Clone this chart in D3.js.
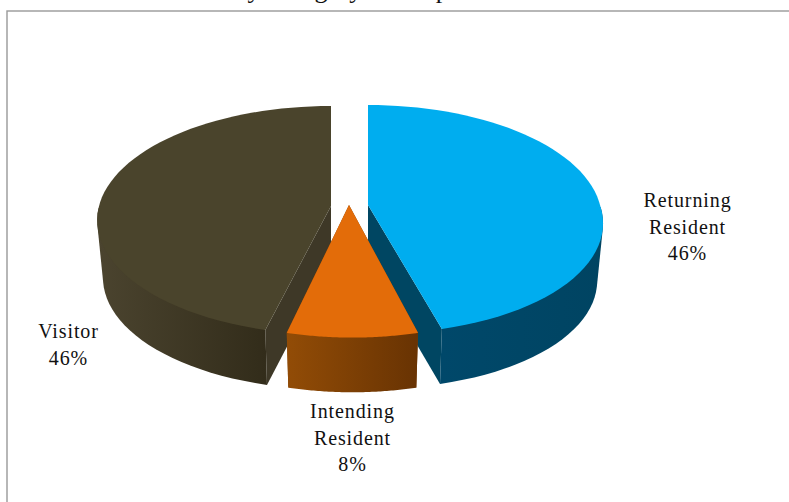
<!DOCTYPE html>
<html>
<head>
<meta charset="utf-8">
<script src="https://cdn.jsdelivr.net/npm/d3@7"></script>
<style>
body { margin: 0; background: #fff; }
text { font-family: "Liberation Serif", serif; fill: #111; }
</style>
</head>
<body>
<script>
// chart data
var categories = ["Returning Resident", "Intending Resident", "Visitor"];
var shares = [46, 8, 46];
var labelLines = [["Returning", "Resident", "46%"], ["Intending", "Resident", "8%"], ["Visitor", "46%"]];
var titleText = "by Category of Respondent";

var topColors = ["#00adef", "#e36c09", "#4a442c"];
var sideColors = ["#004662", "#7a3d06", "#3e3827"];
var wallStops = [["#00486a", "#004462"], ["#924c06", "#683303"], ["#4b442f", "#322c1a"]];

var svg_width = 789;
var svg_height = 502;

var svg = d3.select("body")
    .append("svg")
    .attr("width", svg_width)
    .attr("height", svg_height)
    .style("display", "block");

var defs = svg.append("defs");

// chart frame
svg.append("rect")
    .attr("x", 7).attr("y", 11)
    .attr("width", 790).attr("height", 500)
    .attr("fill", "#fff")
    .attr("stroke", "#999")
    .attr("stroke-width", 1.4);

// title is cut by the top of the picture
svg.append("text")
    .attr("x", 377).attr("y", -2)
    .attr("text-anchor", "middle")
    .style("font-size", "26px")
    .text(titleText);

var pie = d3.pie().sort(null).value(function (d) { return d; });
var slices = pie(shares);

// apex of every slice on the screen
var apex = [[368, 205], [349, 205], [331, 206]];
var radiusX = 232;
var radiusY = [112.5, 116, 112.5];
var lean = [8.5, 3.5, 0];
var persp = 0.125;
var depth = 58;
var bottomScale = 0.975;

// angle on the disc -> screen point, top plane or bottom plane
function project(i, a, bottom) {
    var c = Math.cos(a);
    var s = 1 / (1 - persp * c);
    var f = bottom ? bottomScale : 1;
    var x = apex[i][0] + (radiusX * Math.sin(a) * s + lean[i] * Math.max(0, c)) * f;
    var y = apex[i][1] + radiusY[i] * c * s * f;
    return [x, bottom ? y + depth : y];
}

function arcPoints(i, a0, a1, bottom) {
    return d3.range(0, 61).map(function (k) {
        return project(i, a0 + (a1 - a0) * k / 60, bottom);
    });
}

var line = d3.line().curve(d3.curveLinear);

// slices are pie angles with 0 at the back, going clockwise; flip to the viewer
function toScreenAngle(a) {
    return Math.PI - a;
}

var drawOrder = [2, 0, 1];
drawOrder.forEach(function (i) {
    var d = slices[i];
    var a0 = toScreenAngle(d.startAngle);
    var a1 = toScreenAngle(d.endAngle);
    var g = svg.append("g").attr("class", "slice");
    var ax = apex[i];
    var apexBottom = [ax[0], ax[1] + depth * 0.97];

    // radial side walls
    [a0, a1].forEach(function (a) {
        var p = project(i, a, false);
        var q = project(i, a, true);
        g.append("path")
            .attr("d", line([ax, p, q, apexBottom]) + "Z")
            .attr("fill", sideColors[i]);
    });

    // outer wall with its horizontal shading, hull keeps the silhouette tight
    var topArc = arcPoints(i, a0, a1, false);
    var bottomArc = arcPoints(i, a0, a1, true);
    var frontPts = topArc.concat(bottomArc).filter(function (p) { return p[1] > ax[1]; });
    var gid = "wall" + i;
    var gr = defs.append("linearGradient")
        .attr("id", gid)
        .attr("gradientUnits", "userSpaceOnUse")
        .attr("x1", d3.min(frontPts, function (p) { return p[0]; })).attr("y1", 0)
        .attr("x2", d3.max(frontPts, function (p) { return p[0]; })).attr("y2", 0);
    gr.append("stop").attr("offset", 0).attr("stop-color", wallStops[i][0]);
    gr.append("stop").attr("offset", 1).attr("stop-color", wallStops[i][1]);
    var hull = d3.polygonHull(frontPts);
    g.append("path")
        .attr("d", line(hull) + "Z")
        .attr("fill", "url(#" + gid + ")");

    // top face
    g.append("path")
        .attr("d", line([ax].concat(topArc)) + "Z")
        .attr("fill", topColors[i]);
});

// labels
var labelPos = [[687.5, 207], [352.5, 418], [68.5, 338]];
var labels = svg.selectAll("text.label")
    .data(labelLines)
    .enter()
    .append("text")
    .attr("class", "label")
    .attr("text-anchor", "middle")
    .style("font-size", "20px")
    .style("letter-spacing", "0.9px");

labels.each(function (lines, i) {
    d3.select(this).selectAll("tspan")
        .data(lines)
        .enter()
        .append("tspan")
        .attr("x", labelPos[i][0])
        .attr("y", function (d, k) { return labelPos[i][1] + k * 26.5; })
        .text(function (d) { return d; });
});
</script>
</body>
</html>
